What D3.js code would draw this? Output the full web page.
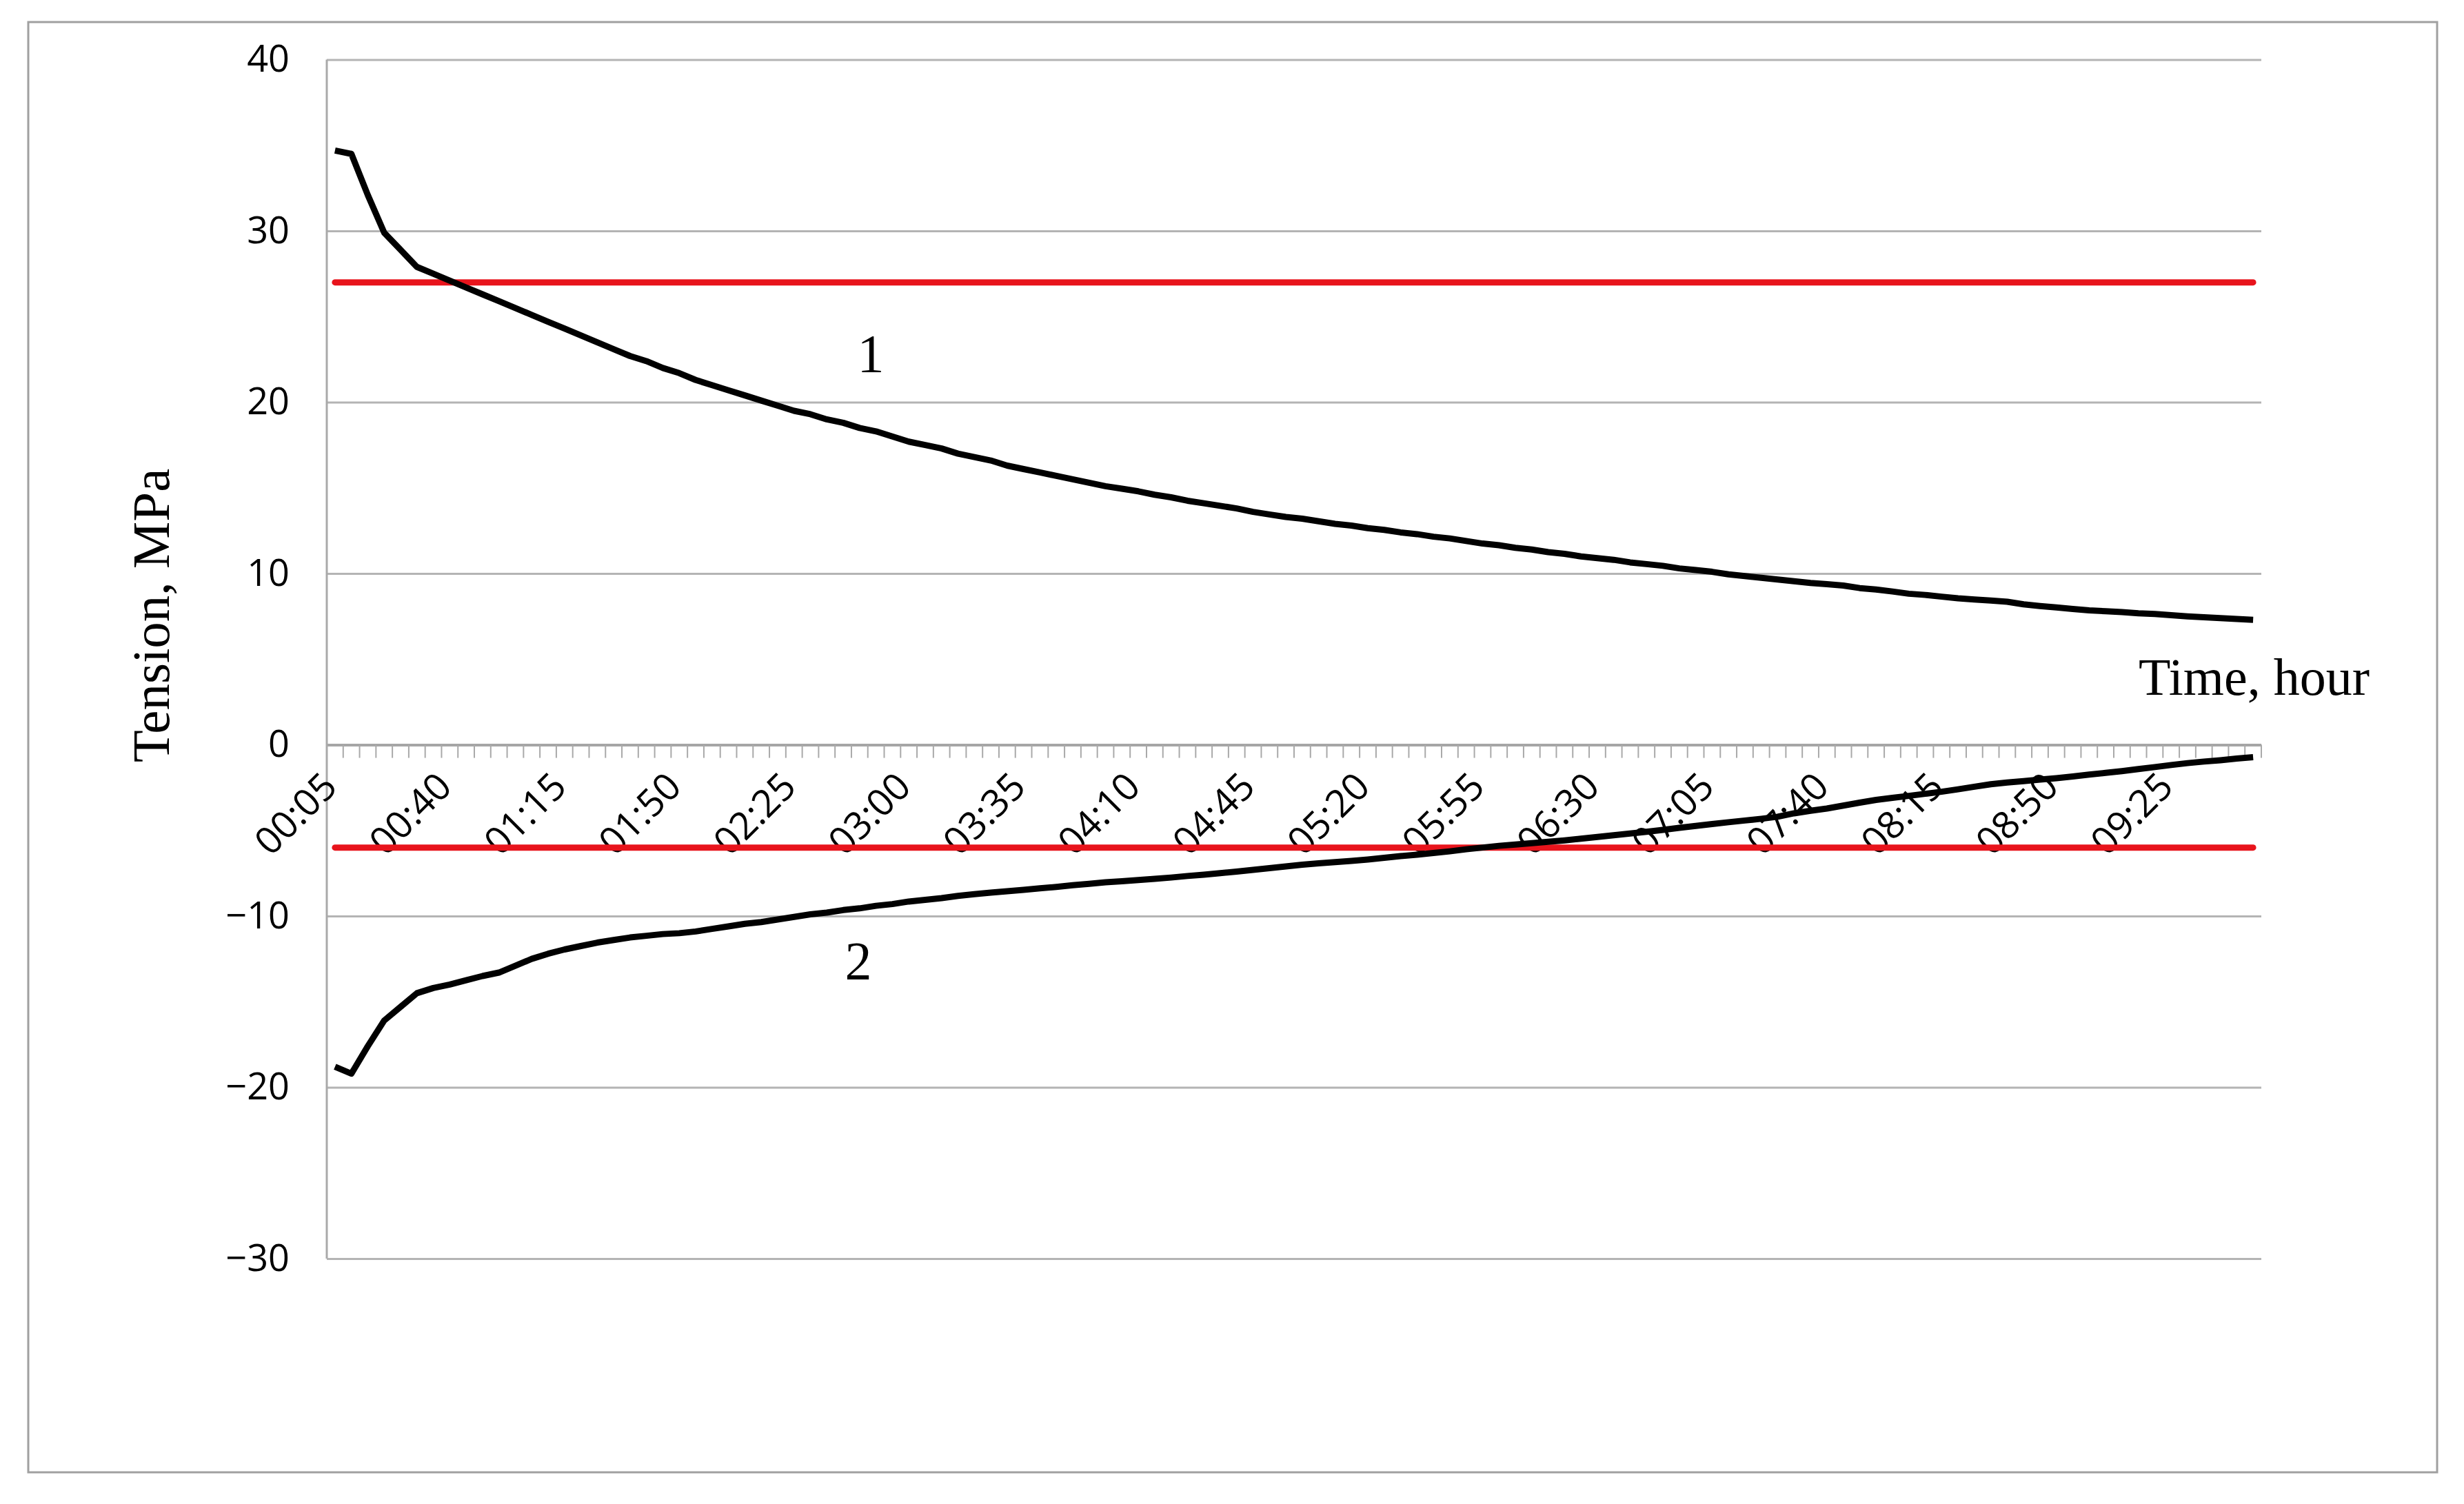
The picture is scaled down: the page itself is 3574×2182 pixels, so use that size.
<!DOCTYPE html>
<html>
<head>
<meta charset="utf-8">
<script src="https://cdn.jsdelivr.net/npm/d3@7"></script>
<style>
  body { margin: 0; background: #fff; }
  svg { display: block; }
</style>
</head>
<body>
<div id="chart"></div>
<script>
// time stamps, every 5 minutes
const categories = [
  "00:05","00:10","00:15","00:20","00:25","00:30","00:35","00:40","00:45","00:50","00:55","01:00",
  "01:05","01:10","01:15","01:20","01:25","01:30","01:35","01:40","01:45","01:50","01:55","02:00",
  "02:05","02:10","02:15","02:20","02:25","02:30","02:35","02:40","02:45","02:50","02:55","03:00",
  "03:05","03:10","03:15","03:20","03:25","03:30","03:35","03:40","03:45","03:50","03:55","04:00",
  "04:05","04:10","04:15","04:20","04:25","04:30","04:35","04:40","04:45","04:50","04:55","05:00",
  "05:05","05:10","05:15","05:20","05:25","05:30","05:35","05:40","05:45","05:50","05:55","06:00",
  "06:05","06:10","06:15","06:20","06:25","06:30","06:35","06:40","06:45","06:50","06:55","07:00",
  "07:05","07:10","07:15","07:20","07:25","07:30","07:35","07:40","07:45","07:50","07:55","08:00",
  "08:05","08:10","08:15","08:20","08:25","08:30","08:35","08:40","08:45","08:50","08:55","09:00",
  "09:05","09:10","09:15","09:20","09:25","09:30","09:35","09:40","09:45","09:50"
];

// curve 1 (tension, MPa)
const series1 = [
  34.7, 34.5, 32.1, 29.9, 28.9, 27.9, 27.5, 27.1, 26.7, 26.3, 25.9, 25.5,
  25.1, 24.7, 24.3, 23.9, 23.5, 23.1, 22.7, 22.4, 22.0, 21.7, 21.3, 21.0,
  20.7, 20.4, 20.1, 19.8, 19.5, 19.3, 19.0, 18.8, 18.5, 18.3, 18.0, 17.7,
  17.5, 17.3, 17.0, 16.8, 16.6, 16.3, 16.1, 15.9, 15.7, 15.5, 15.3, 15.1,
  14.95, 14.8, 14.6, 14.45, 14.25, 14.1, 13.95, 13.8, 13.6, 13.45, 13.3, 13.2,
  13.05, 12.9, 12.8, 12.65, 12.55, 12.4, 12.3, 12.15, 12.05, 11.9, 11.75, 11.65,
  11.5, 11.4, 11.25, 11.15, 11.0, 10.9, 10.8, 10.65, 10.55, 10.45, 10.3, 10.2,
  10.1, 9.95, 9.85, 9.75, 9.65, 9.55, 9.45, 9.38, 9.3, 9.15, 9.07, 8.95,
  8.82, 8.75, 8.65, 8.55, 8.48, 8.42, 8.35, 8.2, 8.1, 8.02, 7.93, 7.85,
  7.8, 7.75, 7.68, 7.64, 7.57, 7.5, 7.45, 7.4, 7.35, 7.3
];

// curve 2 (tension, MPa)
const series2 = [
  -18.8, -19.2, -17.6, -16.1, -15.3, -14.5, -14.2, -14.0, -13.75, -13.5, -13.3, -12.9,
  -12.5, -12.2, -11.95, -11.75, -11.55, -11.4, -11.25, -11.15, -11.05, -11.0, -10.9, -10.75,
  -10.6, -10.45, -10.35, -10.2, -10.05, -9.9, -9.8, -9.65, -9.55, -9.4, -9.3, -9.15,
  -9.05, -8.95, -8.82, -8.72, -8.63, -8.55, -8.47, -8.38, -8.3, -8.2, -8.12, -8.03,
  -7.97, -7.9, -7.83, -7.75, -7.66, -7.58, -7.49, -7.4, -7.3, -7.2, -7.1, -7.0,
  -6.92, -6.85, -6.78, -6.7, -6.6, -6.5, -6.42, -6.32, -6.22, -6.1, -6.0, -5.9,
  -5.82, -5.74, -5.66, -5.58, -5.48, -5.38, -5.28, -5.18, -5.08, -4.97, -4.85, -4.74,
  -4.63, -4.52, -4.42, -4.32, -4.2, -4.0, -3.85, -3.72, -3.55, -3.38, -3.22, -3.1,
  -2.98, -2.86, -2.74, -2.6, -2.45, -2.3, -2.2, -2.12, -2.03, -1.95, -1.85, -1.74,
  -1.64, -1.54, -1.42, -1.3, -1.18, -1.07, -0.98, -0.9, -0.8, -0.72
];

// allowable limits (red lines)
const limits = [27, -6];

const yTicks = [-30, -20, -10, 0, 10, 20, 30, 40];
const labelEvery = 7;

const W = 3574, H = 2182;
const plotLeft = 474, plotRight = 3280, plotTop = 86.6, plotBottom = 1826;
const sans = "'Open Sans', 'Noto Sans', sans-serif";
const serif = "'Liberation Serif', 'Times New Roman', serif";
const grey = "#a9a9a9";

const svg = d3.select("#chart").append("svg")
    .attr("width", W)
    .attr("height", H);

svg.append("rect")
    .attr("x", 0).attr("y", 0).attr("width", W).attr("height", H)
    .attr("fill", "#fff");

// chart border
svg.append("rect")
    .attr("x", 41).attr("y", 32)
    .attr("width", 3494).attr("height", 2104)
    .attr("fill", "none")
    .attr("stroke", "#a0a0a0")
    .attr("stroke-width", 3);

const x = d3.scaleBand()
    .domain(categories)
    .range([plotLeft, plotRight])
    .padding(0);

const y = d3.scaleLinear()
    .domain([-30, 40])
    .range([plotBottom, plotTop]);

const cx = d => x(d) + x.bandwidth() / 2;

// gridlines + y labels
const yAxis = svg.append("g")
    .attr("transform", `translate(${plotLeft},0)`)
    .call(d3.axisLeft(y)
        .tickValues(yTicks)
        .tickSize(-(plotRight - plotLeft))
        .tickPadding(54)
        .tickFormat(d => d < 0 ? "\u2212" + Math.abs(d) : d));

yAxis.select(".domain").remove();
yAxis.selectAll(".tick line")
    .attr("stroke", d => d === 0 ? "#a6a6a6" : "#b4b4b4")
    .attr("stroke-width", d => d === 0 ? 4 : 3);
yAxis.selectAll(".tick text")
    .attr("font-family", sans)
    .attr("font-size", 54)
    .attr("fill", "#000");

// vertical axis line
svg.append("line")
    .attr("x1", plotLeft).attr("x2", plotLeft)
    .attr("y1", plotTop).attr("y2", plotBottom)
    .attr("stroke", grey)
    .attr("stroke-width", 3);

// category tick marks on the zero line
const boundaries = categories.map(c => x(c)).concat([plotRight]);
svg.append("g")
    .selectAll("line")
    .data(boundaries)
    .enter()
    .append("line")
    .attr("x1", d => d).attr("x2", d => d)
    .attr("y1", y(0)).attr("y2", y(0) + 19)
    .attr("stroke", grey)
    .attr("stroke-width", 2);

// x labels, rotated
svg.append("g")
    .selectAll("text")
    .data(categories.filter((c, i) => i % labelEvery === 0))
    .enter()
    .append("text")
    .attr("transform", d => `translate(${cx(d) + 6},${y(0) + 64}) rotate(-45)`)
    .attr("text-anchor", "end")
    .attr("font-family", sans)
    .attr("font-size", 55)
    .attr("fill", "#000")
    .text(d => d);

// limit lines
const first = categories[0], last = categories[categories.length - 1];
svg.append("g")
    .selectAll("line")
    .data(limits)
    .enter()
    .append("line")
    .attr("x1", cx(first)).attr("x2", cx(last))
    .attr("y1", d => y(d)).attr("y2", d => y(d))
    .attr("stroke", "#e8141c")
    .attr("stroke-width", 9)
    .attr("stroke-linecap", "round");

// curves
const line = d3.line()
    .x((d, i) => cx(categories[i]))
    .y(d => y(d));

[series1, series2].forEach(s => {
    svg.append("path")
        .datum(s)
        .attr("d", line)
        .attr("fill", "none")
        .attr("stroke", "#000")
        .attr("stroke-width", 9)
        .attr("stroke-linejoin", "round");
});

// curve numbers
svg.append("text")
    .attr("x", 1263).attr("y", 539)
    .attr("text-anchor", "middle")
    .attr("font-family", serif)
    .attr("font-size", 78)
    .text("1");

svg.append("text")
    .attr("x", 1245).attr("y", 1420)
    .attr("text-anchor", "middle")
    .attr("font-family", serif)
    .attr("font-size", 78)
    .text("2");

// axis titles
svg.append("text")
    .attr("x", 3102).attr("y", 1008)
    .attr("font-family", serif)
    .attr("font-size", 76)
    .text("Time, hour");

svg.append("text")
    .attr("transform", "translate(245,893) rotate(-90)")
    .attr("text-anchor", "middle")
    .attr("font-family", serif)
    .attr("font-size", 77)
    .text("Tension, MPa");
</script>
</body>
</html>
